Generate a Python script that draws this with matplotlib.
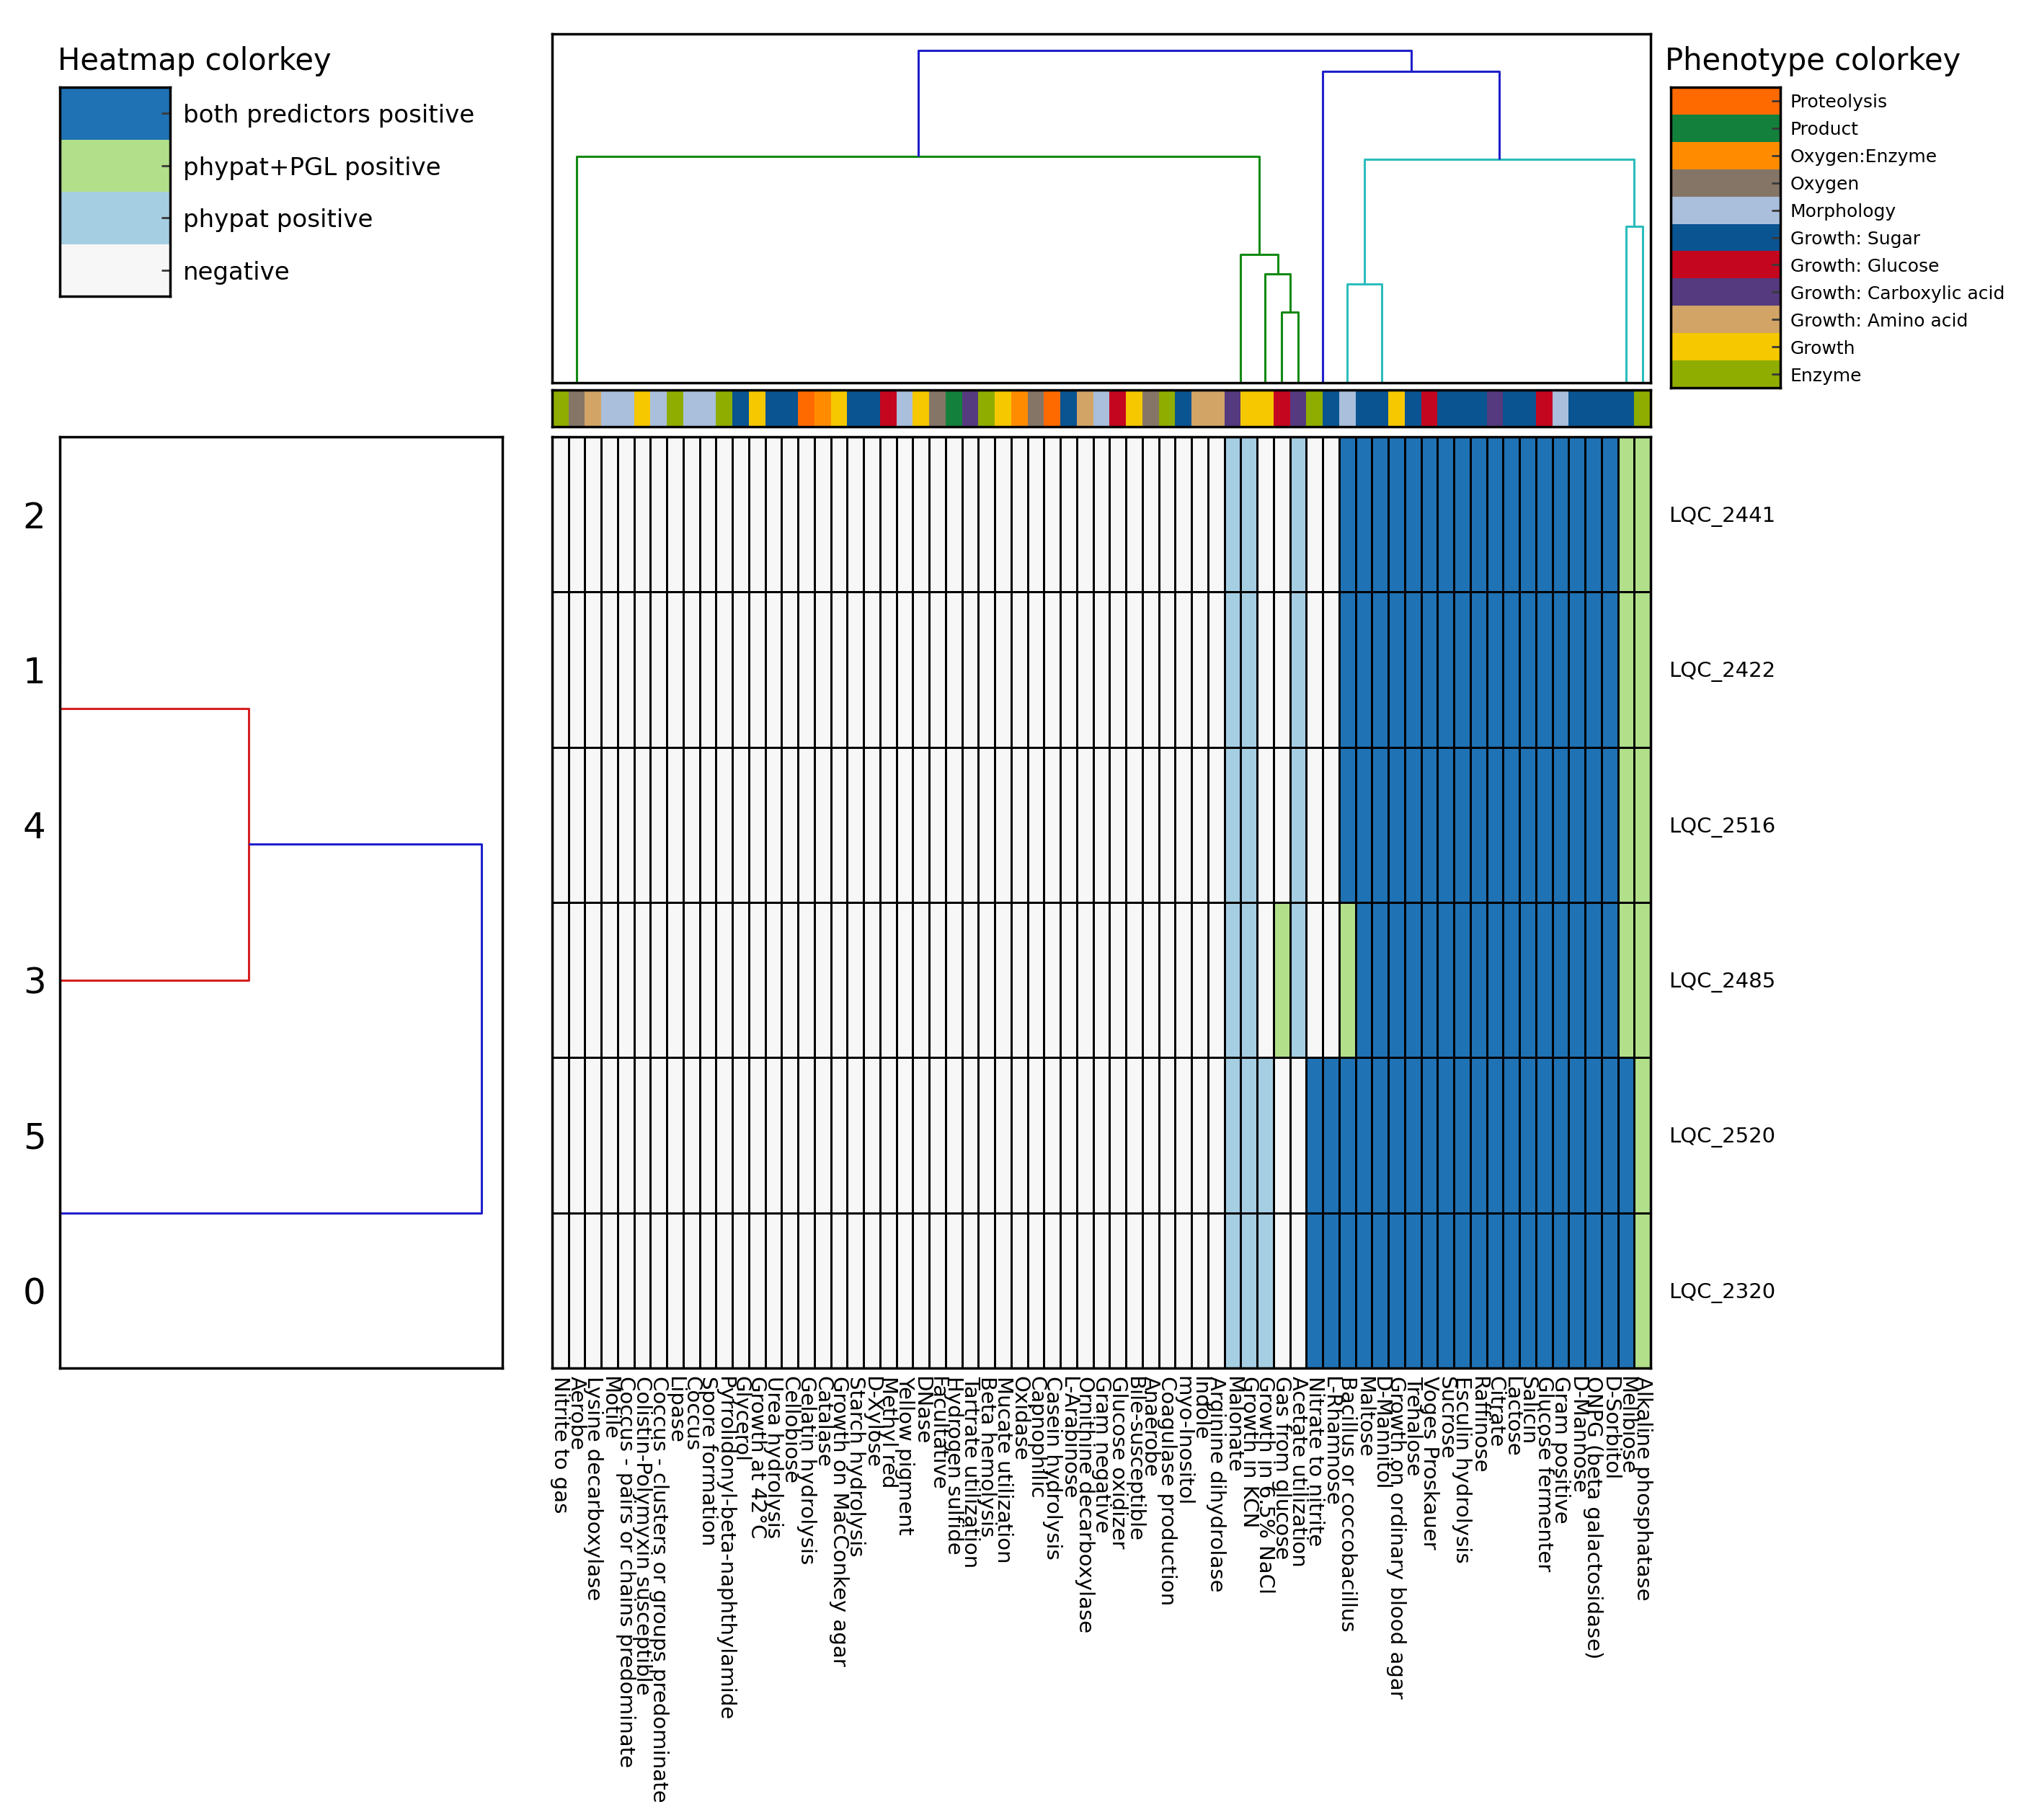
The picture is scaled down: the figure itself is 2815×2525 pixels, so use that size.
import numpy as np
import matplotlib
matplotlib.use("Agg")
import matplotlib.pyplot as plt
from matplotlib.colors import ListedColormap, BoundaryNorm

plt.rcParams['font.family'] = ['DejaVu Sans']

# ---------------- data ----------------
phenotypes = [
    "Nitrite to gas", "Aerobe", "Lysine decarboxylase", "Motile",
    "Coccus - pairs or chains predominate", "Colistin-Polymyxin susceptible",
    "Coccus - clusters or groups predominate", "Lipase", "Coccus", "Spore formation",
    "Pyrrolidonyl-beta-naphthylamide", "Glycerol", "Growth at 42°C", "Urea hydrolysis",
    "Cellobiose", "Gelatin hydrolysis", "Catalase", "Growth on MacConkey agar",
    "Starch hydrolysis", "D-Xylose", "Methyl red", "Yellow pigment", "DNase",
    "Facultative", "Hydrogen sulfide", "Tartrate utilization", "Beta hemolysis",
    "Mucate utilization", "Oxidase", "Capnophilic", "Casein hydrolysis", "L-Arabinose",
    "Ornithine decarboxylase", "Gram negative", "Glucose oxidizer", "Bile-susceptible",
    "Anaerobe", "Coagulase production", "myo-Inositol", "Indole", "Arginine dihydrolase",
    "Malonate", "Growth in KCN", "Growth in 6.5% NaCl", "Gas from glucose",
    "Acetate utilization", "Nitrate to nitrite", "L-Rhamnose", "Bacillus or coccobacillus",
    "Maltose", "D-Mannitol", "Growth on ordinary blood agar", "Trehalose",
    "Voges Proskauer", "Sucrose", "Esculin hydrolysis", "Raffinose", "Citrate",
    "Lactose", "Salicin", "Glucose fermenter", "Gram positive", "D-Mannose",
    "ONPG (beta galactosidase)", "D-Sorbitol", "Melibiose", "Alkaline phosphatase",
]

strains = ["LQC_2441", "LQC_2422", "LQC_2516", "LQC_2485", "LQC_2520", "LQC_2320"]
strain_ids = ["2", "1", "4", "3", "5", "0"]

heat_classes = ["negative", "phypat positive", "phypat+PGL positive", "both predictors positive"]
heat_colors = ["#f7f7f7", "#a6cee3", "#b2df8a", "#1f72b4"]

# 0 negative, 1 phypat positive, 2 phypat+PGL positive, 3 both predictors positive
row_LQC_2441 = [0, 0, 0, 0, 0, 0, 0, 0, 0, 0, 0, 0, 0, 0, 0, 0, 0, 0, 0, 0,
                0, 0, 0, 0, 0, 0, 0, 0, 0, 0, 0, 0, 0, 0, 0, 0, 0, 0, 0, 0,
                0, 1, 1, 0, 0, 1, 0, 0, 3, 3, 3, 3, 3, 3, 3, 3, 3, 3, 3, 3,
                3, 3, 3, 3, 3, 2, 2]
row_LQC_2422 = [0, 0, 0, 0, 0, 0, 0, 0, 0, 0, 0, 0, 0, 0, 0, 0, 0, 0, 0, 0,
                0, 0, 0, 0, 0, 0, 0, 0, 0, 0, 0, 0, 0, 0, 0, 0, 0, 0, 0, 0,
                0, 1, 1, 0, 0, 1, 0, 0, 3, 3, 3, 3, 3, 3, 3, 3, 3, 3, 3, 3,
                3, 3, 3, 3, 3, 2, 2]
row_LQC_2516 = [0, 0, 0, 0, 0, 0, 0, 0, 0, 0, 0, 0, 0, 0, 0, 0, 0, 0, 0, 0,
                0, 0, 0, 0, 0, 0, 0, 0, 0, 0, 0, 0, 0, 0, 0, 0, 0, 0, 0, 0,
                0, 1, 1, 0, 0, 1, 0, 0, 3, 3, 3, 3, 3, 3, 3, 3, 3, 3, 3, 3,
                3, 3, 3, 3, 3, 2, 2]
row_LQC_2485 = [0, 0, 0, 0, 0, 0, 0, 0, 0, 0, 0, 0, 0, 0, 0, 0, 0, 0, 0, 0,
                0, 0, 0, 0, 0, 0, 0, 0, 0, 0, 0, 0, 0, 0, 0, 0, 0, 0, 0, 0,
                0, 1, 1, 0, 2, 1, 0, 0, 2, 3, 3, 3, 3, 3, 3, 3, 3, 3, 3, 3,
                3, 3, 3, 3, 3, 2, 2]
row_LQC_2520 = [0, 0, 0, 0, 0, 0, 0, 0, 0, 0, 0, 0, 0, 0, 0, 0, 0, 0, 0, 0,
                0, 0, 0, 0, 0, 0, 0, 0, 0, 0, 0, 0, 0, 0, 0, 0, 0, 0, 0, 0,
                0, 1, 1, 1, 0, 0, 3, 3, 3, 3, 3, 3, 3, 3, 3, 3, 3, 3, 3, 3,
                3, 3, 3, 3, 3, 3, 2]
row_LQC_2320 = [0, 0, 0, 0, 0, 0, 0, 0, 0, 0, 0, 0, 0, 0, 0, 0, 0, 0, 0, 0,
                0, 0, 0, 0, 0, 0, 0, 0, 0, 0, 0, 0, 0, 0, 0, 0, 0, 0, 0, 0,
                0, 1, 1, 1, 0, 0, 3, 3, 3, 3, 3, 3, 3, 3, 3, 3, 3, 3, 3, 3,
                3, 3, 3, 3, 3, 3, 2]

phenotype_groups = ["Proteolysis", "Product", "Oxygen:Enzyme", "Oxygen", "Morphology",
                    "Growth: Sugar", "Growth: Glucose", "Growth: Carboxylic acid",
                    "Growth: Amino acid", "Growth", "Enzyme"]
phenotype_group_colors = ["#ff6a00", "#13803c", "#ff8c00", "#857567", "#a9bfdb",
                          "#0a5491", "#c4061f", "#563a80", "#d2a466", "#f5c800", "#8fad00"]

column_group = [
    "Enzyme", "Oxygen", "Growth: Amino acid", "Morphology", "Morphology", "Growth",
    "Morphology", "Enzyme", "Morphology", "Morphology", "Enzyme", "Growth: Sugar",
    "Growth", "Growth: Sugar", "Growth: Sugar", "Proteolysis", "Oxygen:Enzyme", "Growth",
    "Growth: Sugar", "Growth: Sugar", "Growth: Glucose", "Morphology", "Growth", "Oxygen",
    "Product", "Growth: Carboxylic acid", "Enzyme", "Growth", "Oxygen:Enzyme", "Oxygen",
    "Proteolysis", "Growth: Sugar", "Growth: Amino acid", "Morphology", "Growth: Glucose",
    "Growth", "Oxygen", "Enzyme", "Growth: Sugar", "Growth: Amino acid",
    "Growth: Amino acid", "Growth: Carboxylic acid", "Growth", "Growth", "Growth: Glucose",
    "Growth: Carboxylic acid", "Enzyme", "Growth: Sugar", "Morphology", "Growth: Sugar",
    "Growth: Sugar", "Growth", "Growth: Sugar", "Growth: Glucose", "Growth: Sugar",
    "Growth: Sugar", "Growth: Sugar", "Growth: Carboxylic acid", "Growth: Sugar",
    "Growth: Sugar", "Growth: Glucose", "Morphology", "Growth: Sugar", "Growth: Sugar",
    "Growth: Sugar", "Growth: Sugar", "Enzyme",
]

# column dendrogram: leaf groups (identical columns) and where their stems stand
col_leaf_names = ["G1", "G2", "G3", "G4", "G5", "G6", "G7", "G8", "G9", "G10"]
col_leaf_stem = [1.5, 42.0, 43.5, 44.5, 45.5, 47.0, 48.5, 50.6, 65.5, 66.5]
# links: (new node, child a, child b, merge height, colour key)
col_links = [
    ("N1", "G4", "G5", 0.973, "g"),
    ("N2", "G3", "N1", 1.507, "g"),
    ("N3", "G2", "N2", 1.773, "g"),
    ("N4", "G1", "N3", 3.123, "g"),
    ("N5", "G7", "G8", 1.363, "c"),
    ("N6", "G9", "G10", 2.163, "c"),
    ("N7", "N5", "N6", 3.083, "c"),
    ("N8", "G6", "N7", 4.297, "b"),
    ("R", "N4", "N8", 4.590, "b"),
]

# row dendrogram links over the strain leaves
row_links = [
    ("A", "2", "1", 0.0, "r"),
    ("B", "A", "4", 0.0, "r"),
    ("C", "B", "3", 2.236, "r"),
    ("D", "5", "0", 0.0, "b"),
    ("R", "C", "D", 5.0, "b"),
]

link_colors = {"g": "#138a13", "c": "#2dbcbc", "b": "#2020cc", "r": "#d42020"}

# ---------------- figure ----------------
W, H = 2815, 2525
fig = plt.figure(figsize=(W / 100, H / 100), dpi=100)


def rect(x0, y0, x1, y1):
    return [x0 / W, 1 - y1 / H, (x1 - x0) / W, (y1 - y0) / H]


SPINE_LW = 2.5
LINK_LW = 2.2
TICK_FS = 21


def style_spines(ax):
    for s in ax.spines.values():
        s.set_linewidth(SPINE_LW)
        s.set_color("black")
        s.set_zorder(5)


def draw_links(ax, leaf_pos, links, orient):
    pos = dict(leaf_pos)
    hgt = {k: 0.0 for k in leaf_pos}
    for name, a, b, h, ck in links:
        pa, pb = pos[a], pos[b]
        ps = [pa, pa, pb, pb]
        hs = [hgt[a], h, h, hgt[b]]
        if orient == "top":
            ax.plot(ps, hs, color=link_colors[ck], lw=LINK_LW, solid_capstyle="butt")
        else:
            ax.plot(hs, ps, color=link_colors[ck], lw=LINK_LW, solid_capstyle="butt")
        pos[name] = (pa + pb) / 2.0
        hgt[name] = h
    return max(hgt.values())


n_rows = len(strains)
n_cols = len(phenotypes)
data = np.array([row_LQC_2441, row_LQC_2422, row_LQC_2516,
                 row_LQC_2485, row_LQC_2520, row_LQC_2320])

heat_cmap = ListedColormap(heat_colors)
heat_norm = BoundaryNorm(np.arange(-0.5, len(heat_colors) + 0.5), len(heat_colors))

# heatmap
ax_h = fig.add_axes(rect(766, 606, 2290, 1898))
ax_h.pcolormesh(np.arange(n_cols + 1), np.arange(n_rows + 1), data, cmap=heat_cmap,
                norm=heat_norm, edgecolors="black", linewidth=2.0)
ax_h.set_xlim(0, n_cols)
ax_h.set_ylim(n_rows, 0)
ax_h.set_xticks(np.arange(n_cols) + 0.5)
ax_h.set_xticklabels(phenotypes, rotation=270, fontsize=TICK_FS, va="top", ha="center")
ax_h.set_yticks(np.arange(n_rows) + 0.5)
ax_h.set_yticklabels(strains, fontsize=TICK_FS)
ax_h.yaxis.tick_right()
ax_h.tick_params(axis="x", length=0, pad=8)
ax_h.tick_params(axis="y", length=0, pad=18)
style_spines(ax_h)

# phenotype colour strip
grp_index = [phenotype_groups.index(g) for g in column_group]
pheno_cmap = ListedColormap(phenotype_group_colors)
pheno_norm = BoundaryNorm(np.arange(-0.5, len(phenotype_groups) + 0.5), len(phenotype_groups))
ax_s = fig.add_axes(rect(766, 541, 2290, 592))
ax_s.pcolormesh(np.arange(n_cols + 1), [0, 1], np.array([grp_index]), cmap=pheno_cmap,
                norm=pheno_norm)
ax_s.set_xlim(0, n_cols)
ax_s.set_ylim(0, 1)
ax_s.set_xticks([])
ax_s.set_yticks([])
style_spines(ax_s)

# column dendrogram
ax_c = fig.add_axes(rect(766, 47, 2290, 531))
top_c = draw_links(ax_c, dict(zip(col_leaf_names, col_leaf_stem)), col_links, "top")
ax_c.set_xlim(0, n_cols)
ax_c.set_ylim(0, top_c * 1.05)
ax_c.set_xticks([])
ax_c.set_yticks([])
style_spines(ax_c)

# row dendrogram
ax_r = fig.add_axes(rect(83, 606, 697, 1898))
top_r = draw_links(ax_r, {sid: i + 0.5 for i, sid in enumerate(strain_ids)}, row_links, "right")
ax_r.set_ylim(n_rows, 0)
ax_r.set_xlim(0, top_r * 1.05)
ax_r.set_xticks([])
ax_r.set_yticks(np.arange(n_rows) + 0.5)
ax_r.set_yticklabels(strain_ids, fontsize=36)
ax_r.tick_params(axis="y", length=0, pad=14)
style_spines(ax_r)

# heatmap colour key
ax_k = fig.add_axes(rect(83, 121, 236, 411))
key_vals = list(range(len(heat_classes)))[::-1]
ax_k.pcolormesh([0, 1], np.arange(len(key_vals) + 1), np.array(key_vals)[:, None],
                cmap=heat_cmap, norm=heat_norm)
ax_k.set_xlim(0, 1)
ax_k.set_ylim(len(key_vals), 0)
ax_k.set_xticks([])
ax_k.set_yticks(np.arange(len(key_vals)) + 0.5)
ax_k.set_yticklabels([heat_classes[v] for v in key_vals], fontsize=24.5)
ax_k.yaxis.tick_right()
ax_k.tick_params(axis="y", direction="in", length=9, width=2, color="#3a3a3a", pad=13)
style_spines(ax_k)
fig.text(80 / W, 1 - 85 / H, "Heatmap colorkey", fontsize=30, va="center", ha="left")

# phenotype colour key
ax_p = fig.add_axes(rect(2318, 121, 2470, 538))
p_vals = list(range(len(phenotype_groups)))
ax_p.pcolormesh([0, 1], np.arange(len(p_vals) + 1), np.array(p_vals)[:, None],
                cmap=pheno_cmap, norm=pheno_norm)
ax_p.set_xlim(0, 1)
ax_p.set_ylim(len(p_vals), 0)
ax_p.set_xticks([])
ax_p.set_yticks(np.arange(len(p_vals)) + 0.5)
ax_p.set_yticklabels(phenotype_groups, fontsize=18)
ax_p.yaxis.tick_right()
ax_p.tick_params(axis="y", direction="in", length=9, width=2, color="#3a3a3a", pad=10)
style_spines(ax_p)
fig.text(2310 / W, 1 - 85 / H, "Phenotype colorkey", fontsize=30, va="center", ha="left")

fig.savefig("out.png", dpi=100, facecolor="white")
